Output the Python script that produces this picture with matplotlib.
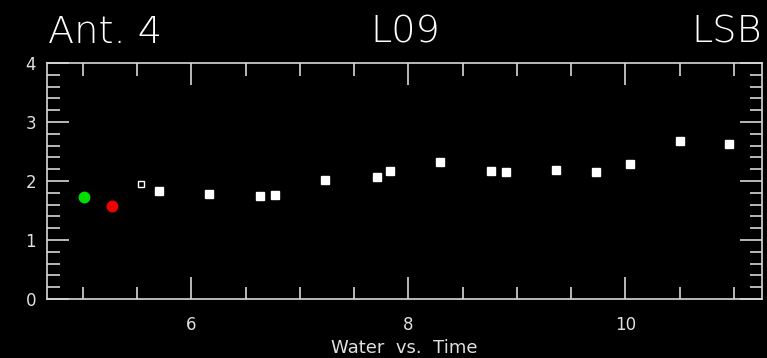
import matplotlib
matplotlib.use("Agg")
import matplotlib.pyplot as plt
from matplotlib.ticker import MultipleLocator

# Data
green_x = [5.01]
green_y = [1.73]
red_x = [5.27]
red_y = [1.58]
hollow_x = [5.54]
hollow_y = [1.95]
white_x = [5.70, 6.16, 6.63, 6.77, 7.23, 7.71, 7.83, 8.29, 8.76, 8.90,
           9.36, 9.73, 10.04, 10.50, 10.96]
white_y = [1.83, 1.78, 1.75, 1.76, 2.02, 2.07, 2.17, 2.32, 2.17, 2.15,
           2.19, 2.15, 2.28, 2.68, 2.63]

title_left = "Ant. 4"
title_mid = "L09"
title_right = "LSB"
xlabel = "Water  vs.  Time"

fig = plt.figure(figsize=(7.67, 3.58), dpi=100, facecolor="black")
ax = fig.add_axes([0.0613, 0.165, 0.9322, 0.659], facecolor="black")

ax.plot(white_x, white_y, linestyle="none", marker="s", markersize=5.5,
        color="white", markeredgecolor="white")
ax.plot(hollow_x, hollow_y, linestyle="none", marker="s", markersize=4.5,
        markerfacecolor="black", markeredgecolor="white", markeredgewidth=1)
ax.plot(green_x, green_y, linestyle="none", marker="o", markersize=7.5,
        color="#00e000")
ax.plot(red_x, red_y, linestyle="none", marker="o", markersize=7.5,
        color="#f00000")

ax.set_xlim(4.67, 11.26)
ax.set_ylim(0, 4)

ax.xaxis.set_major_locator(MultipleLocator(2))
ax.xaxis.set_minor_locator(MultipleLocator(0.5))
ax.yaxis.set_major_locator(MultipleLocator(1))
ax.yaxis.set_minor_locator(MultipleLocator(0.2))

axcol = "#d8d8d8"
for s in ax.spines.values():
    s.set_color(axcol)
    s.set_linewidth(1.2)

ax.tick_params(which="both", direction="in", top=True, right=True,
               colors=axcol, labelcolor="#e0e0e0", labelsize=12)
ax.tick_params(which="major", length=16, width=1.2, pad=8)
ax.tick_params(which="minor", length=9, width=1.2)
ax.tick_params(axis="x", which="major", pad=12)

ax.set_xlabel(xlabel, color="#e0e0e0", fontsize=13, labelpad=4)

fig.text(0.063, 0.88, title_left, color="white", fontsize=27.5, ha="left",
         va="baseline", fontweight="light")
fig.text(0.528, 0.88, title_mid, color="white", fontsize=27.5, ha="center",
         va="baseline", fontweight="light")
fig.text(0.993, 0.88, title_right, color="white", fontsize=27.5, ha="right",
         va="baseline", fontweight="light")

fig.savefig("out.png", dpi=100, facecolor="black")
